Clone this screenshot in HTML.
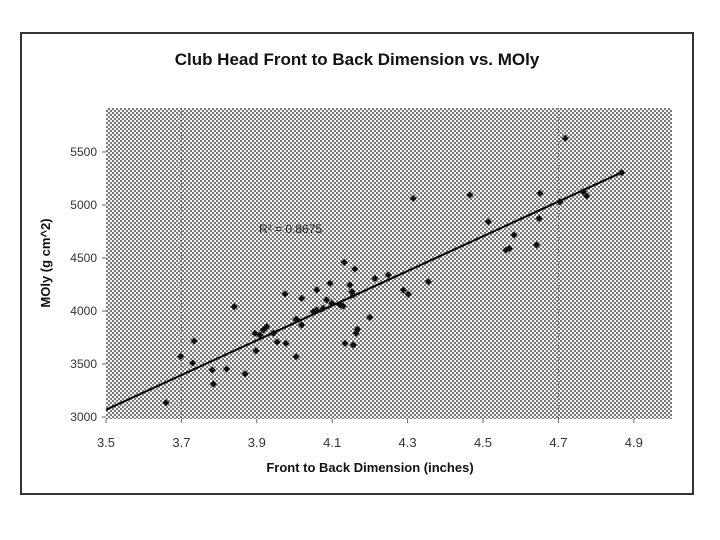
<!DOCTYPE html>
<html><head><meta charset="utf-8"><style>
html,body{margin:0;padding:0;background:#fff;}
svg{display:block;font-family:"Liberation Sans",Arial,sans-serif;}
</style></head><body>
<svg id="chart" width="720" height="540" viewBox="0 0 720 540">
<defs>
<pattern id="dots" width="4" height="4" patternUnits="userSpaceOnUse">
<rect width="4" height="4" fill="#f2f2f2"/>
<rect x="0" y="0" width="2" height="2" fill="#7a7a7a"/>
<rect x="2" y="2" width="2" height="2" fill="#7a7a7a"/>
</pattern>
</defs>
<rect x="21" y="33" width="672" height="461" fill="#fff" stroke="#333" stroke-width="2"/>
<text x="357" y="65" text-anchor="middle" font-size="17" font-weight="bold" fill="#111">Club Head Front to Back Dimension vs. MOly</text>
<rect x="106" y="108" width="566" height="311" fill="url(#dots)"/>
<g id="grid"></g>
<g id="axes"></g>
<g id="marks"></g>
<text x="259" y="233" font-size="12" fill="#222">R² = 0.8675</text>
<text x="370" y="472" text-anchor="middle" font-size="13" font-weight="bold" fill="#111">Front to Back Dimension (inches)</text>
<text transform="translate(50,263) rotate(-90)" text-anchor="middle" font-size="13" font-weight="bold" fill="#111">MOly (g cm^2)</text>
</svg>
<script>
const xTicks = [3.5, 3.7, 3.9, 4.1, 4.3, 4.5, 4.7, 4.9];
const yTicks = [3000, 3500, 4000, 4500, 5000, 5500];
const xValues = [3.975,3.840,3.734,3.698,3.659,3.782,3.820,3.869,3.785,3.898,3.954,3.977,4.004,3.895,3.917,3.926,3.944,3.908,4.004,3.730,
4.132,4.160,4.094,4.147,4.152,4.156,4.019,4.059,4.085,4.099,4.076,4.059,4.121,4.129,4.050,4.006,4.019,4.213,4.249,4.355,4.289,4.302,4.200,4.167,4.163,4.134,4.156,
4.718,4.868,4.775,4.766,4.651,4.465,4.704,4.514,4.649,4.582,4.561,4.570,4.642,4.315];
const yValues = [4160,4041,3717,3572,3135,3443,3453,3406,3311,3625,3707,3695,3569,3790,3821,3852,3790,3774,3921,3509,
4459,4396,4261,4245,4182,4151,4119,4198,4104,4072,4025,4009,4057,4047,3993,3921,3868,4308,4340,4276,4198,4158,3940,3827,3790,3695,3679,
5629,5305,5085,5125,5110,5094,5031,4842,4873,4717,4575,4590,4623,5062];
const X0=106, XPX=377, XMIN=3.5;
const Y0=417, YPX=0.106, YMIN=3000;
function sx(v){return X0+(v-XMIN)*XPX;}
function sy(v){return Y0-(v-YMIN)*YPX;}
const NS="http://www.w3.org/2000/svg";
const axes=document.getElementById('axes');
const grid=document.getElementById('grid');
const marks=document.getElementById('marks');
// faint scan gridlines
[3.7,4.7].forEach(v=>{
 const l=document.createElementNS(NS,'line');
 
 
 l.setAttribute('x1',sx(v));l.setAttribute('x2',sx(v));l.setAttribute('y1',108);l.setAttribute('y2',419);
 l.setAttribute('stroke','#444');l.setAttribute('stroke-width','1');l.setAttribute('stroke-dasharray','1,2');
 grid.appendChild(l);
});
xTicks.forEach(v=>{
 const t=document.createElementNS(NS,'text');
 
 
 t.setAttribute('x',sx(v));t.setAttribute('y',447);t.setAttribute('text-anchor','middle');
 t.setAttribute('font-size','13');t.setAttribute('fill','#333');
 t.textContent=v.toFixed(1);axes.appendChild(t);
 const k=document.createElementNS(NS,'line');
 
 
 k.setAttribute('x1',sx(v));k.setAttribute('x2',sx(v));k.setAttribute('y1',419);k.setAttribute('y2',423);
 k.setAttribute('stroke','#666');axes.appendChild(k);
});
yTicks.forEach(v=>{
 const t=document.createElementNS(NS,'text');
 
 
 t.setAttribute('x',97);t.setAttribute('y',sy(v)+4);t.setAttribute('text-anchor','end');
 t.setAttribute('font-size','12');t.setAttribute('fill','#333');
 t.textContent=v;axes.appendChild(t);
 const k=document.createElementNS(NS,'line');
 
 
 k.setAttribute('x1',102);k.setAttribute('x2',106);k.setAttribute('y1',sy(v));k.setAttribute('y2',sy(v));
 k.setAttribute('stroke','#666');axes.appendChild(k);
});
// regression trendline
const n=xValues.length;
let mx=0,my=0;for(let i=0;i<n;i++){mx+=xValues[i];my+=yValues[i];}mx/=n;my/=n;
let sxy=0,sxx=0;for(let i=0;i<n;i++){sxy+=(xValues[i]-mx)*(yValues[i]-my);sxx+=(xValues[i]-mx)**2;}
const slope=sxy/sxx, icpt=my-slope*mx;
const xa=XMIN, xb=Math.max(...xValues);
const tl=document.createElementNS(NS,'line');


tl.setAttribute('x1',sx(xa));tl.setAttribute('y1',sy(icpt+slope*xa));
tl.setAttribute('x2',sx(xb));tl.setAttribute('y2',sy(icpt+slope*xb));
tl.setAttribute('stroke','#000');tl.setAttribute('stroke-width','2');
marks.appendChild(tl);
for(let i=0;i<n;i++){
 const cx=sx(xValues[i]), cy=sy(yValues[i]), r=3.6;
 const p=document.createElementNS(NS,'polygon');
 
 
 p.setAttribute('points',`${cx},${cy-r} ${cx+r},${cy} ${cx},${cy+r} ${cx-r},${cy}`);
 p.setAttribute('fill','#111');
 marks.appendChild(p);
}
</script>
</body></html>
